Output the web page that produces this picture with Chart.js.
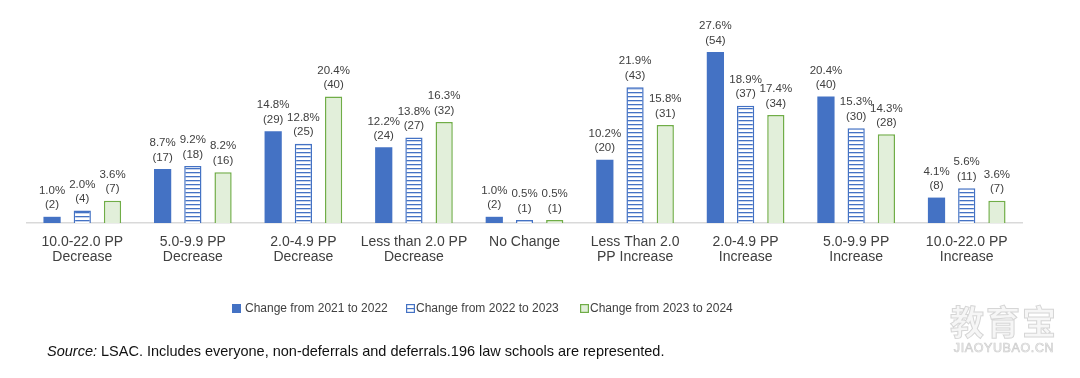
<!DOCTYPE html>
<html>
<head>
<meta charset="utf-8">
<script src="https://cdn.jsdelivr.net/npm/chart.js@4.4.1/dist/chart.umd.min.js"></script>
<style>
  html, body { margin:0; padding:0; background:#fff; }
  #wrap { position:relative; width:1080px; height:378px; overflow:hidden; }
  #src { position:absolute; left:47px; top:343px; font-family:"Liberation Sans", Arial, sans-serif; font-size:14.5px; color:#111; white-space:nowrap; }
  #wm { position:absolute; left:948px; top:302px; width:112px; text-align:center; font-family:"Noto Sans CJK SC", sans-serif; color:#f6f6f6; -webkit-text-stroke:1px #d6d6d6; }
  #wm .big { font-size:34px; line-height:38px; font-weight:bold; letter-spacing:2px; }
  #wm .small { font-family:"Liberation Sans", Arial, sans-serif; font-size:12.5px; letter-spacing:0.6px; line-height:16px; -webkit-text-stroke:0.7px #cfcfcf; }
  .lg { position:absolute; top:300px; height:16px; line-height:16px; font-family:"Liberation Sans", Arial, sans-serif; font-size:12px; color:#404040; white-space:nowrap; }
  .lg canvas { position:absolute; left:0; top:3.5px; }
  .lg span { position:absolute; top:0; }
</style>
</head>
<body>
<div id="wrap">
  <canvas id="c" width="1080" height="378"></canvas>
  <div id="legend"></div>
  <div id="src"><i>Source:</i> LSAC. Includes everyone, non-deferrals and deferrals.196 law schools are represented.</div>
  <div id="wm"><div class="big">教育宝</div><div class="small">JIAOYUBAO.CN</div></div>
</div>
<script>
const categories = [
  ["10.0-22.0 PP", "Decrease"],
  ["5.0-9.9 PP", "Decrease"],
  ["2.0-4.9 PP", "Decrease"],
  ["Less than 2.0 PP", "Decrease"],
  ["No Change"],
  ["Less Than 2.0", "PP Increase"],
  ["2.0-4.9 PP", "Increase"],
  ["5.0-9.9 PP", "Increase"],
  ["10.0-22.0 PP", "Increase"]
];
const seriesNames = ["Change from 2021 to 2022", "Change from 2022 to 2023", "Change from 2023 to 2024"];
const pct2122 = [1.0, 8.7, 14.8, 12.2, 1.0, 10.2, 27.6, 20.4, 4.1];
const pct2223 = [2.0, 9.2, 12.8, 13.8, 0.5, 21.9, 18.9, 15.3, 5.6];
const pct2324 = [3.6, 8.2, 20.4, 16.3, 0.5, 15.8, 17.4, 14.3, 3.6];
const cnt2122 = [2, 17, 29, 24, 2, 20, 54, 40, 8];
const cnt2223 = [4, 18, 25, 27, 1, 43, 37, 30, 11];
const cnt2324 = [7, 16, 40, 32, 1, 31, 34, 28, 7];

const BLUE = '#4472C4';
const GREEN = '#70AD47';
const LGREEN = '#E2EFDA';
const TXT = '#404040';

// hatch pattern
const pc = document.createElement('canvas');
pc.width = 4; pc.height = 4;
const pctx = pc.getContext('2d');
pctx.fillStyle = '#fff'; pctx.fillRect(0,0,4,4);
pctx.fillStyle = BLUE; pctx.fillRect(0,0,4,1.3);
const hatch = pctx.createPattern(pc, 'repeat');

function legendIcon(kind){
  const c = document.createElement('canvas');
  c.width = 9; c.height = 9;
  const x = c.getContext('2d');
  if (kind === 0){ x.fillStyle = BLUE; x.fillRect(0,0,9,9); }
  else if (kind === 1){
    x.fillStyle = '#fff'; x.fillRect(0,0,9,9);
    x.strokeStyle = BLUE; x.lineWidth = 1.2; x.strokeRect(0.6,0.6,7.8,7.8);
    x.fillStyle = BLUE; x.fillRect(1,4,7,1.2);
  } else {
    x.fillStyle = LGREEN; x.fillRect(0,0,9,9);
    x.strokeStyle = GREEN; x.lineWidth = 1.2; x.strokeRect(0.6,0.6,7.8,7.8);
  }
  return c;
}

// HTML legend
const legendPos = [[232, 13], [406, 10], [580, 10]];
const lgDiv = document.getElementById('legend');
seriesNames.forEach((name, i) => {
  const item = document.createElement('div');
  item.className = 'lg';
  item.style.left = legendPos[i][0] + 'px';
  item.appendChild(legendIcon(i));
  const sp = document.createElement('span');
  sp.style.left = legendPos[i][1] + 'px';
  sp.textContent = name;
  item.appendChild(sp);
  lgDiv.appendChild(item);
});

const counts = [cnt2122, cnt2223, cnt2324];

const labelPlugin = {
  id: 'barLabels',
  afterDatasetsDraw(chart){
    const ctx = chart.ctx;
    ctx.save();
    ctx.font = '11.5px "Liberation Sans", Arial, sans-serif';
    ctx.fillStyle = TXT;
    ctx.textAlign = 'center';
    ctx.textBaseline = 'middle';
    chart.data.datasets.forEach((ds, di) => {
      const meta = chart.getDatasetMeta(di);
      meta.data.forEach((el, i) => {
        const v = ds.data[i];
        ctx.fillText(v.toFixed(1) + '%', el.x, el.y - 26);
        ctx.fillText('(' + counts[di][i] + ')', el.x, el.y - 11.5);
      });
    });
    ctx.restore();
  }
};

new Chart(document.getElementById('c'), {
  type: 'bar',
  data: {
    labels: categories,
    datasets: [
      { label: seriesNames[0], data: pct2122, backgroundColor: BLUE, borderColor: BLUE, borderWidth: 0 },
      { label: seriesNames[1], data: pct2223, backgroundColor: hatch, borderColor: BLUE, borderWidth: 1.5 },
      { label: seriesNames[2], data: pct2324, backgroundColor: LGREEN, borderColor: GREEN, borderWidth: 1.5 }
    ]
  },
  options: {
    responsive: false,
    animation: false,
    devicePixelRatio: 1,
    categoryPercentage: 0.82,
    barPercentage: 0.57,
    layout: { padding: { left: 27, right: 58, top: 37, bottom: 93 } },
    scales: {
      x: {
        grid: { display: false, drawTicks: false },
        border: { display: true, color: '#D9D9D9', width: 1.5 },
        ticks: { color: TXT, font: { family: '"Liberation Sans", Arial, sans-serif', size: 14, lineHeight: 1.12 }, padding: 11, maxRotation: 0, autoSkip: false },
        afterFit(scale){ scale.height = 62; }
      },
      y: { display: false, min: 0, max: 30 }
    },
    plugins: {
      tooltip: { enabled: false },
      legend: { display: false }
    }
  },
  plugins: [labelPlugin]
});
</script>
</body>
</html>
